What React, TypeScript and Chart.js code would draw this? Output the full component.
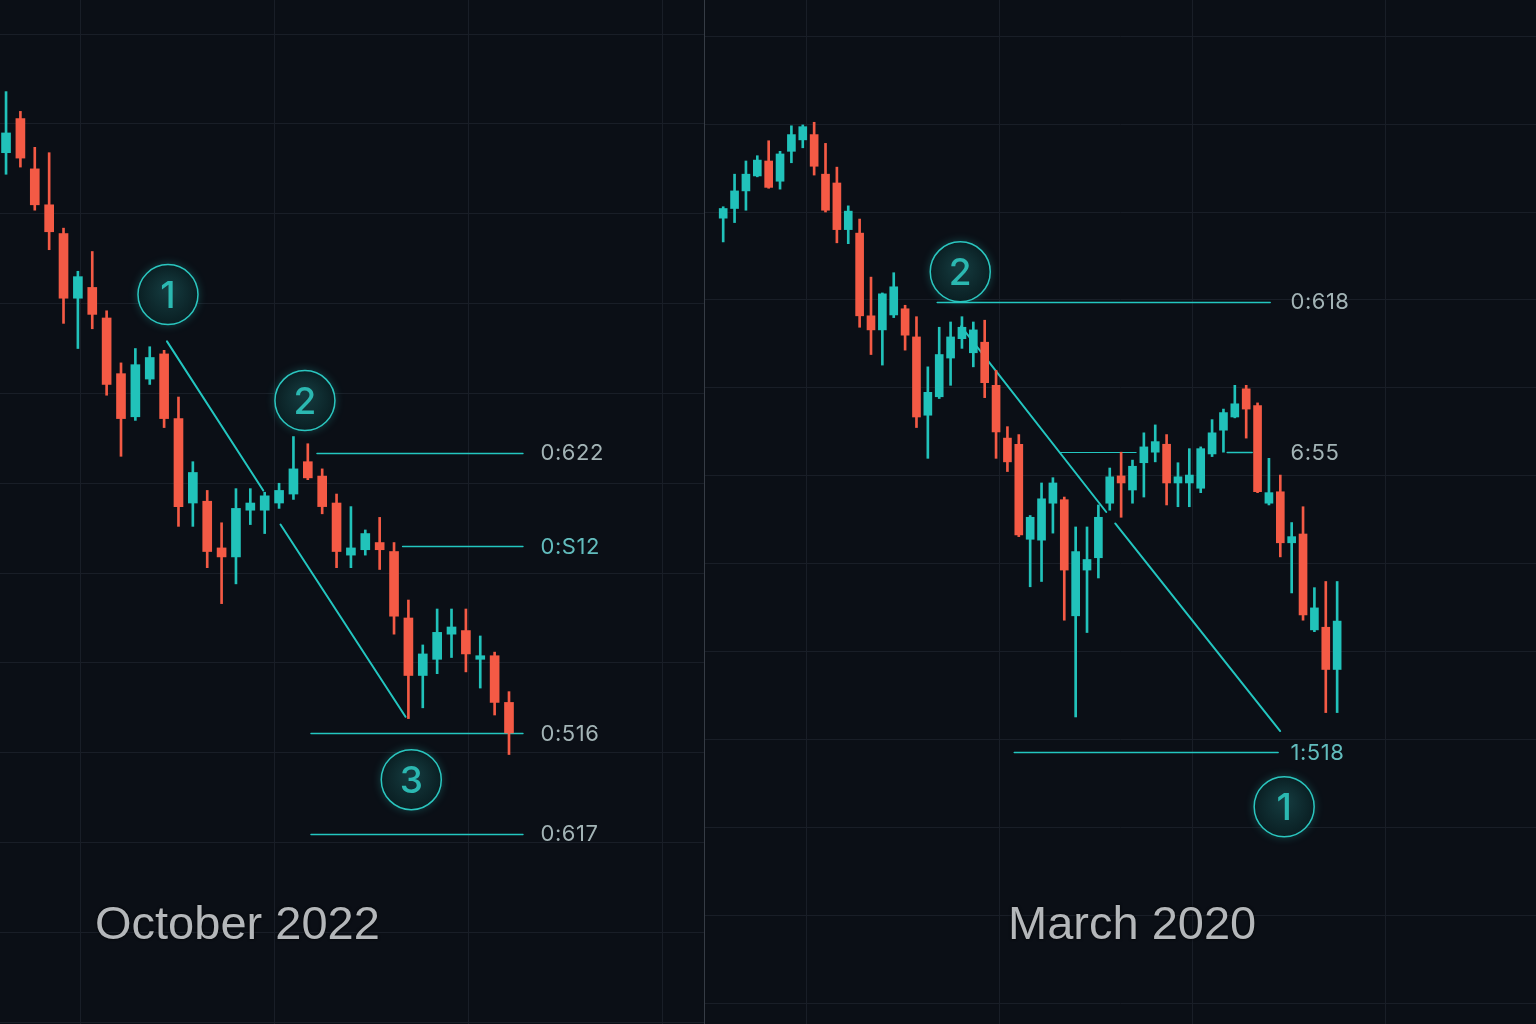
import { useEffect, useRef } from 'react';
import { Chart, registerables } from 'chart.js';
Chart.register(...registerables);

// October 2022 (left panel), one entry per session
const octOpen = [3884, 3903, 3875, 3855, 3839, 3803, 3809, 3792, 3761, 3737, 3758, 3772, 3736, 3689, 3690, 3664, 3659, 3685, 3685, 3689, 3694, 3712, 3704, 3689, 3660, 3663, 3667, 3662, 3625, 3593, 3602, 3616, 3618, 3602, 3604, 3578];
const octHigh = [3918, 3907, 3887, 3884, 3842, 3818, 3829, 3796, 3767, 3775, 3776, 3774, 3748, 3712, 3696, 3678, 3697, 3697, 3695, 3700, 3726, 3722, 3708, 3694, 3687, 3674, 3681, 3667, 3635, 3610, 3630, 3630, 3630, 3615, 3606, 3584];
const octLow = [3872, 3876, 3852, 3830, 3789, 3775, 3786, 3749, 3715, 3735, 3755, 3731, 3676, 3676, 3653, 3633, 3644, 3677, 3672, 3686, 3691, 3702, 3683, 3653, 3653, 3660, 3652, 3616, 3569, 3575, 3594, 3603, 3595, 3586, 3571, 3549];
const octClose = [3895, 3881, 3855, 3840, 3803, 3815, 3794, 3755, 3736, 3766, 3770, 3736, 3687, 3706, 3662, 3659, 3686, 3689, 3693, 3696, 3708, 3703, 3687, 3662, 3664, 3672, 3663, 3626, 3593, 3605, 3617, 3620, 3605, 3604, 3578, 3561];

// March 2020 (right panel)
const marOpen = [3193, 3204, 3224, 3241, 3258, 3235, 3269, 3282, 3288, 3243, 3233, 3180, 3176, 3082, 3066, 3083, 3090, 3058, 2969, 2990, 3034, 3056, 3040, 3052, 3003, 2943, 2936, 2828, 2827, 2869, 2873, 2741, 2793, 2807, 2869, 2900, 2884, 2915, 2927, 2936, 2892, 2892, 2886, 2925, 2952, 2967, 2999, 2980, 2869, 2882, 2824, 2834, 2725, 2728, 2680];
const marHigh = [3206, 3243, 3258, 3264, 3281, 3269, 3298, 3299, 3302, 3278, 3251, 3207, 3192, 3126, 3108, 3131, 3094, 3081, 3024, 3069, 3075, 3081, 3075, 3077, 3020, 2956, 2947, 2855, 2892, 2898, 2876, 2842, 2842, 2867, 2909, 2927, 2918, 2949, 2958, 2947, 2915, 2931, 2933, 2964, 2976, 3003, 3003, 2983, 2920, 2901, 2847, 2865, 2773, 2780, 2780];
const marLow = [3166, 3188, 3202, 3240, 3227, 3226, 3256, 3273, 3242, 3200, 3165, 3164, 3069, 3038, 3026, 3080, 3043, 2955, 2920, 2988, 3003, 3045, 3024, 2989, 2920, 2905, 2831, 2774, 2780, 2835, 2736, 2626, 2722, 2784, 2861, 2853, 2869, 2876, 2916, 2867, 2865, 2865, 2881, 2922, 2927, 2966, 2943, 2881, 2867, 2808, 2767, 2736, 2723, 2631, 2631];
const marClose = [3204, 3224, 3243, 3259, 3228, 3266, 3288, 3297, 3252, 3202, 3180, 3201, 3082, 3066, 3107, 3115, 3060, 2967, 2995, 3038, 3058, 3069, 3066, 3006, 2950, 2916, 2833, 2853, 2874, 2892, 2793, 2814, 2805, 2853, 2899, 2892, 2911, 2933, 2939, 2892, 2899, 2901, 2931, 2949, 2972, 2982, 2976, 2882, 2881, 2824, 2831, 2742, 2750, 2680, 2735];

// wave annotations, in session index / price units
const octTrend = [[11.2, 3779, 17.9, 3696], [19.1, 3677, 27.8, 3570]];
const octLevels = [
  { text: '0:622', price: 3717, from: 21.64, to: 35.97 },
  { text: '0:S12', price: 3665, from: 27.6, to: 35.97 },
  { text: '0:516', price: 3561, from: 21.22, to: 35.97 },
  { text: '0:617', price: 3505, from: 21.22, to: 35.97 },
];
const octWaves = [
  { n: '1', x: 11.27, price: 3805 },
  { n: '2', x: 20.8, price: 3746 },
  { n: '3', x: 28.2, price: 3535 },
];

const marTrend = [[20.92, 3070, 33.69, 2859], [34.48, 2846, 48.99, 2610]];
const marLevels = [
  { text: '0:618', price: 3098, from: 18.82, to: 48.11 },
  { text: '', price: 2927, from: 29.64, to: 36.32 },
  { text: '6:55', price: 2927, from: 44.33, to: 46.53 },
  { text: '1:518', price: 2586, from: 25.6, to: 48.81 },
];
const marWaves = [
  { n: '2', x: 20.85, price: 3132 },
  { n: '1', x: 49.34, price: 2524 },
];

const TEAL = '#21c2ba';
const RED = '#f45a45';
const LINE = '#23c6c0';
const GRID = '#191e27';
const tealLabels = ['0:S12', '1:518'];

const makeOverlay = (trend: number[][], levels: any[], waves: any[], labelAt: number, lineWidth: number) => ({
  id: 'waveMarks',
  beforeDatasetsDraw(chart: any) {
    const { ctx, scales: { x, y } } = chart;
    ctx.save();
    ctx.strokeStyle = LINE;
    ctx.lineCap = 'round';
    ctx.lineWidth = 2;
    trend.forEach(([a, pa, b, pb]) => {
      ctx.beginPath();
      ctx.moveTo(x.getPixelForValue(a), y.getPixelForValue(pa));
      ctx.lineTo(x.getPixelForValue(b), y.getPixelForValue(pb));
      ctx.stroke();
    });
    levels.forEach((l) => {
      const py = Math.round(y.getPixelForValue(l.price)) + 0.5;
      ctx.lineWidth = l.text ? lineWidth : 1;
      ctx.beginPath();
      ctx.moveTo(x.getPixelForValue(l.from), py);
      ctx.lineTo(x.getPixelForValue(l.to), py);
      ctx.stroke();
    });
    ctx.restore();
  },
  afterDatasetsDraw(chart: any) {
    const { ctx, scales: { x, y } } = chart;
    ctx.save();
    ctx.font = '400 22px Inter';
    ctx.letterSpacing = '0.5px';
    ctx.textAlign = 'left';
    ctx.textBaseline = 'middle';
    levels.forEach((l) => {
      if (!l.text) return;
      ctx.fillStyle = tealLabels.includes(l.text) ? '#62bcbd' : '#a3b4b6';
      ctx.fillText(l.text, x.getPixelForValue(labelAt), y.getPixelForValue(l.price) + 1);
    });
    ctx.letterSpacing = '0px';
    waves.forEach((w) => {
      const cx = x.getPixelForValue(w.x);
      const cy = y.getPixelForValue(w.price);
      const g = ctx.createRadialGradient(cx, cy - 6, 3, cx, cy, 30);
      g.addColorStop(0, '#143a3e');
      g.addColorStop(1, '#0a1f23');
      ctx.beginPath();
      ctx.arc(cx, cy, 30, 0, Math.PI * 2);
      ctx.fillStyle = g;
      ctx.shadowColor = 'rgba(35, 198, 192, 0.35)';
      ctx.shadowBlur = 10;
      ctx.fill();
      ctx.shadowBlur = 0;
      ctx.lineWidth = 1.5;
      ctx.strokeStyle = '#2bc6bf';
      ctx.stroke();
      ctx.fillStyle = '#2bb8b1';
      ctx.font = '500 37px Inter';
      ctx.textAlign = 'center';
      ctx.textBaseline = 'middle';
      ctx.fillText(w.n, cx, cy + 2);
    });
    ctx.restore();
  },
});

const gridAt = (start: number, step: number, max: number) => (axis: any) => {
  const ticks = [];
  for (let v = start; v <= max; v += step) ticks.push({ value: v });
  axis.ticks = ticks;
};

const CandlePanel = ({ open, high, low, close, xMin, xMax, yMin, yMax, yStep, gridStart, gridStep, body, overlay }: any) => {
  const chartRef = useRef<HTMLCanvasElement>(null);

  useEffect(() => {
    if (!chartRef.current) return;
    const colors = open.map((o: number, i: number) => (close[i] >= o ? TEAL : RED));
    const myChart = new Chart(chartRef.current, {
      type: 'bar',
      data: {
        datasets: [
          {
            label: 'body',
            data: open.map((o: number, i: number) => ({ x: i, y: [o, close[i]] })),
            backgroundColor: colors,
            barThickness: body,
            grouped: false,
          },
          {
            label: 'wick',
            data: low.map((l: number, i: number) => ({ x: i, y: [l, high[i]] })),
            backgroundColor: colors,
            barThickness: 2,
            grouped: false,
          },
        ],
      } as any,
      options: {
        animation: false,
        responsive: true,
        maintainAspectRatio: false,
        layout: { padding: 0 },
        events: [],
        plugins: { legend: { display: false }, tooltip: { enabled: false } },
        scales: {
          x: {
            type: 'linear',
            min: xMin,
            max: xMax,
            offset: false,
            ticks: { display: false },
            grid: { color: GRID, drawTicks: false, offset: false },
            border: { display: false },
            afterBuildTicks: gridAt(gridStart, gridStep, xMax),
          },
          y: {
            min: yMin,
            max: yMax,
            ticks: { display: false, stepSize: yStep, includeBounds: false },
            grid: { color: GRID, drawTicks: false },
            border: { display: false },
          },
        },
      } as any,
      plugins: [overlay],
    });

    return () => {
      myChart.destroy();
    };
  }, []);

  return <canvas ref={chartRef} style={{ width: '100%', height: '100%' }}></canvas>;
};

const titleStyle: any = {
  position: 'absolute',
  top: 899,
  font: '400 47px "Liberation Sans", Arial, sans-serif',
  lineHeight: '1',
  color: '#b4b7ba',
  textShadow: '0 0 3px rgba(0,0,0,0.9)',
  whiteSpace: 'nowrap',
};

const App = () => {
  return (
    <div style={{ position: 'fixed', left: 0, top: 0, width: 1536, height: 1024, background: '#0b0f16', overflow: 'hidden' }}>
      <div style={{ position: 'absolute', left: 0, top: 0, width: 704, height: 1024 }}>
        <CandlePanel
          open={octOpen} high={octHigh} low={octLow} close={octClose}
          xMin={-0.42} xMax={48.57} yMin={3399} yMax={3969} yStep={50}
          gridStart={5.15} gridStep={13.5} body={9}
          overlay={makeOverlay(octTrend, octLevels, octWaves, 37.2, 1.5)}
        />
      </div>
      <div style={{ position: 'absolute', left: 704, top: 0, width: 1, height: 1024, background: '#363c45' }} />
      <div style={{ position: 'absolute', left: 705, top: 0, width: 831, height: 1024 }}>
        <CandlePanel
          open={marOpen} high={marHigh} low={marLow} close={marClose}
          xMin={-1.6} xMax={71.49} yMin={2277} yMax={3441} yStep={100}
          gridStart={7.37} gridStep={16.97} body={8}
          overlay={makeOverlay(marTrend, marLevels, marWaves, 49.9, 1.5)}
        />
      </div>
      <div style={{ ...titleStyle, left: 95 }}>October 2022</div>
      <div style={{ ...titleStyle, left: 1008 }}>March 2020</div>
    </div>
  );
};

export default App;
